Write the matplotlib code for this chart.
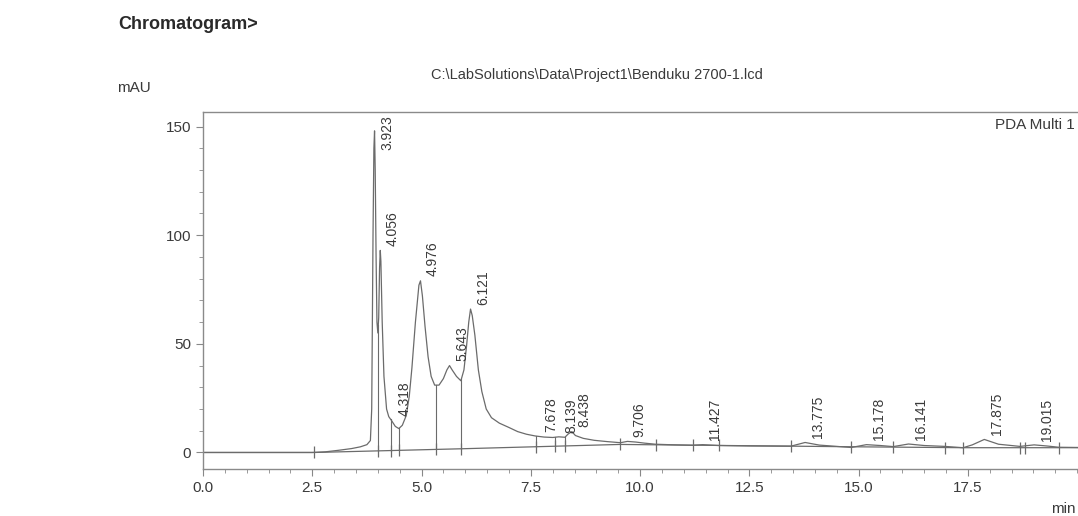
#!/usr/bin/env python3

import numpy as np
import matplotlib.pyplot as plt
from matplotlib.ticker import MultipleLocator

# chromatogram trace (time in min, signal in mAU)
time_min = [0.0, 2.5, 2.8, 3.1, 3.4, 3.6, 3.75, 3.83, 3.86, 3.89, 3.91, 3.925,
            3.94, 3.96, 3.98, 4.00, 4.02, 4.04, 4.056, 4.07, 4.10, 4.14, 4.20,
            4.25, 4.32, 4.40, 4.48, 4.56, 4.65, 4.72, 4.78, 4.86, 4.94, 4.976,
            5.02, 5.08, 5.15, 5.22, 5.30, 5.40, 5.50, 5.58, 5.64, 5.70, 5.80,
            5.90, 5.97, 6.03, 6.08, 6.121, 6.16, 6.22, 6.30, 6.38, 6.48, 6.60,
            6.78, 7.00, 7.20, 7.40, 7.60, 7.80, 8.00, 8.14, 8.28, 8.36, 8.44,
            8.52, 8.70, 8.95, 9.25, 9.55, 9.71, 9.90, 10.10, 10.35, 10.8, 11.2,
            11.43, 11.8, 12.5, 13.45, 13.775, 14.1, 14.83, 15.178, 15.5, 15.79,
            16.141, 16.5, 16.97, 17.39, 17.6, 17.875, 18.2, 18.69, 19.015, 19.3,
            19.58, 20.5, 21.0]
signal_mau = [0.0, 0.0, 0.3, 1.0, 1.8, 2.6, 3.6, 5.5, 20, 100, 140, 148,
              130, 90, 60, 55, 62, 85, 93, 88, 60, 35, 20,
              16.5, 14.5, 12, 11, 12.5, 17, 26, 39, 60, 77, 79,
              72, 58, 44, 35, 31, 31, 34, 38, 40, 38, 35,
              33, 38, 49, 60, 66, 63, 54, 38, 28, 20, 16,
              13.5, 11.5, 9.6, 8.4, 7.6, 7.1, 6.9, 7.2, 7.0, 8.6, 9.6,
              7.8, 6.5, 5.6, 5.0, 4.5, 5.1, 4.8, 4.3, 3.8, 3.5, 3.3,
              3.6, 3.2, 3.0, 2.9, 4.6, 3.4, 2.3, 3.6, 3.2, 2.7,
              3.9, 3.2, 2.8, 2.2, 3.5, 6.0, 3.8, 2.8, 3.5, 3.0,
              2.4, 2.2, 2.2]

# integration baseline
base_time = [0.0, 2.55, 5.9, 9.54, 12.0, 15.0, 17.4, 21.0]
base_mau = [0.0, 0.0, 1.7, 3.7, 3.2, 2.6, 2.2, 2.2]

# peak boundaries (the little "+" marks on the baseline)
bounds = [2.55, 4.01, 4.29, 4.49, 5.32, 5.91, 7.61, 8.06, 8.28, 9.54, 10.37,
          11.2, 11.8, 13.45, 14.83, 15.79, 16.97, 17.39, 18.69, 18.8, 19.58]
drop_bounds = [4.01, 4.29, 4.49, 5.32, 5.91, 7.61, 8.06, 8.28]

# labelled peaks
peak_rt = [3.923, 4.056, 4.318, 4.976, 5.643, 6.121, 7.678, 8.139, 8.438,
           9.706, 11.427, 13.775, 15.178, 16.141, 17.875, 19.015]
peak_h = [148, 93, 15, 79, 40, 66, 7.5, 7.0, 9.5,
          5.0, 3.6, 4.6, 3.6, 3.9, 6.0, 3.5]

GREY = "#6b6b6b"
TXT = "#3a3a3a"


def main():
    plt.rcParams["font.family"] = ["Liberation Sans", "DejaVu Sans"]
    fig = plt.figure(figsize=(10.78, 5.16), dpi=100)
    ax = fig.add_axes([0.1883, 0.0911, 0.8515, 0.6919])

    ax.plot(time_min, signal_mau, color=GREY, lw=0.9)
    ax.plot(base_time, base_mau, color=GREY, lw=0.9)

    # drop lines from baseline up to the trace
    for b in drop_bounds:
        y0 = np.interp(b, base_time, base_mau)
        y1 = np.interp(b, time_min, signal_mau)
        ax.plot([b, b], [y0, y1], color=GREY, lw=0.8)

    bx = np.array(bounds)
    ax.plot(bx, np.interp(bx, base_time, base_mau), ls="none", marker="|",
            ms=9, mew=0.9, color=GREY)

    for rt, h in zip(peak_rt, peak_h):
        ax.annotate(f"{rt:.3f}", (rt, min(h + 2.0, 139)), xytext=(4, 0),
                    textcoords="offset points", rotation=90, ha="left",
                    va="bottom", fontsize=10, color=TXT)

    ax.set_xlim(0, 21)
    ax.set_ylim(-7.6, 156.7)
    ax.set_xticks([0, 2.5, 5, 7.5, 10, 12.5, 15, 17.5])
    ax.xaxis.set_minor_locator(MultipleLocator(0.5))
    ax.set_yticks([0, 50, 100, 150])
    ax.yaxis.set_minor_locator(MultipleLocator(10))
    ax.xaxis.set_major_formatter(lambda v, p: f"{v:.1f}")
    ax.tick_params(axis="both", which="major", labelsize=11, colors="#888888",
                   labelcolor=TXT, length=5, width=0.8)
    ax.tick_params(axis="both", which="minor", colors="#999999", length=3,
                   width=0.7)
    for s in ax.spines.values():
        s.set_color("#8a8a8a")
        s.set_linewidth(1.0)

    fig.text(0.110, 0.952, "Chromatogram>", fontsize=13, fontweight="bold",
             color="#2a2a2a", va="center", ha="left")
    fig.text(0.554, 0.855, r"C:\LabSolutions\Data\Project1\Benduku 2700-1.lcd",
             fontsize=10.5, color=TXT, va="center", ha="center")
    fig.text(0.109, 0.829, "mAU", fontsize=11, color=TXT, va="center", ha="left")
    fig.text(0.997, 0.758, "PDA Multi 1", fontsize=11, color=TXT, va="center",
             ha="right")
    fig.text(0.975, 0.0136, "min", fontsize=11, color=TXT, va="center", ha="left")

    fig.savefig("out.png", dpi=100, facecolor="white")


if __name__ == "__main__":
    main()
